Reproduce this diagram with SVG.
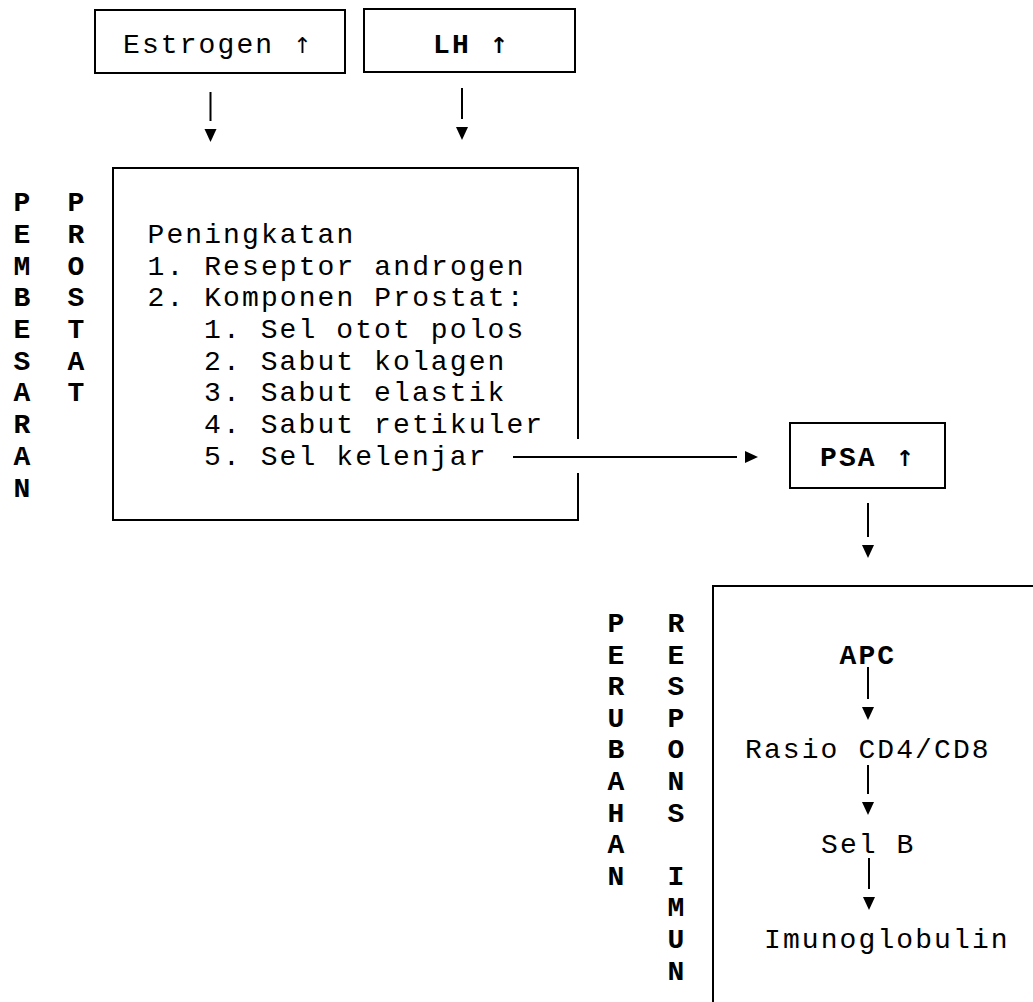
<svg xmlns="http://www.w3.org/2000/svg" width="1033" height="1002" viewBox="0 0 1033 1002">
<style>
text{font-family:"Liberation Mono","Courier New",monospace;font-size:28px;letter-spacing:2.1px;fill:#000}
.b{font-weight:bold}
.c{text-anchor:middle}
.up{font-family:"DejaVu Sans",sans-serif;font-size:22px;letter-spacing:0}
.box{fill:none;stroke:#000;stroke-width:2}
.con{stroke:#000;stroke-width:2;fill:none}
</style>
<defs>
<marker id="ah" markerUnits="userSpaceOnUse" viewBox="0 -8 26 16" markerWidth="26" markerHeight="16" refX="0" refY="0" orient="auto" overflow="visible">
<path d="M8,-6 L21,0 L8,6 Z" fill="#000"/>
</marker>
</defs>
<rect width="1033" height="1002" fill="#fff"/>
<g id="estrogen">
<rect class="box" x="95" y="10" width="250" height="63"/>
<text x="123" y="53">Estrogen <tspan class="up">↑</tspan></text>
</g>
<g id="lh">
<rect class="box" x="364" y="9" width="211" height="63"/>
<text x="433" y="53" class="b">LH <tspan class="up">↑</tspan></text>
</g>
<g id="pembesaran-label" class="b">
<text x="23" y="211" class="c">P</text><text x="23" y="243" class="c">E</text><text x="23" y="275" class="c">M</text><text x="23" y="306" class="c">B</text><text x="23" y="338" class="c">E</text><text x="23" y="370" class="c">S</text><text x="23" y="401" class="c">A</text><text x="23" y="433" class="c">R</text><text x="23" y="465" class="c">A</text><text x="23" y="497" class="c">N</text>
<text x="77" y="211" class="c">P</text><text x="77" y="243" class="c">R</text><text x="77" y="275" class="c">O</text><text x="77" y="306" class="c">S</text><text x="77" y="338" class="c">T</text><text x="77" y="370" class="c">A</text><text x="77" y="401" class="c">T</text>
</g>
<g id="peningkatan">
<path class="box" d="M578,439 V168 H113 V520 H578 V473"/>
<text x="147.5" y="243">Peningkatan</text>
<text x="147.5" y="275">1. Reseptor androgen</text>
<text x="147.5" y="306">2. Komponen Prostat:</text>
<text x="204" y="338">1. Sel otot polos</text>
<text x="204" y="370">2. Sabut kolagen</text>
<text x="204" y="401">3. Sabut elastik</text>
<text x="204" y="433">4. Sabut retikuler</text>
<text x="204" y="465">5. Sel kelenjar</text>
</g>
<g id="psa">
<rect class="box" x="790" y="423" width="155" height="65"/>
<text x="820" y="466" class="b">PSA <tspan class="up">↑</tspan></text>
</g>
<g id="respons-imun">
<path class="box" d="M713,1002 V586 H1033"/>
<text x="839.5" y="664" class="b">APC</text>
<text x="745" y="758">Rasio CD4/CD8</text>
<text x="821" y="853">Sel B</text>
<text x="764" y="948">Imunoglobulin</text>
</g>
<g id="perubahan-label" class="b">
<text x="617" y="632" class="c">P</text><text x="617" y="664" class="c">E</text><text x="617" y="695" class="c">R</text><text x="617" y="727" class="c">U</text><text x="617" y="758" class="c">B</text><text x="617" y="790" class="c">A</text><text x="617" y="822" class="c">H</text><text x="617" y="853" class="c">A</text><text x="617" y="885" class="c">N</text>
<text x="677" y="632" class="c">R</text><text x="677" y="664" class="c">E</text><text x="677" y="695" class="c">S</text><text x="677" y="727" class="c">P</text><text x="677" y="758" class="c">O</text><text x="677" y="790" class="c">N</text><text x="677" y="822" class="c">S</text><text x="677" y="885" class="c">I</text><text x="677" y="916" class="c">M</text><text x="677" y="948" class="c">U</text><text x="677" y="980" class="c">N</text>
</g>
<g id="connectors" class="con">
<line x1="210.5" y1="92" x2="210.5" y2="121" marker-end="url(#ah)"/>
<line x1="462" y1="88" x2="462" y2="119" marker-end="url(#ah)"/>
<line x1="513" y1="457" x2="737" y2="457" marker-end="url(#ah)"/>
<line x1="868" y1="503" x2="868" y2="537" marker-end="url(#ah)"/>
<line x1="868" y1="667" x2="868" y2="699" marker-end="url(#ah)"/>
<line x1="868" y1="765" x2="868" y2="794" marker-end="url(#ah)"/>
<line x1="869" y1="858" x2="869" y2="889" marker-end="url(#ah)"/>
</g>
</svg>
